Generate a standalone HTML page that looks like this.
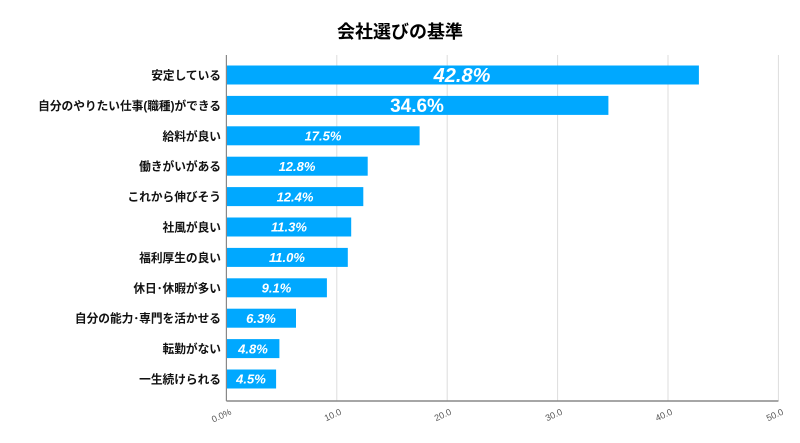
<!DOCTYPE html><html><head><meta charset="utf-8"><style>
body{margin:0;background:#fff;}
svg text{font-family:"Liberation Sans","Noto Sans CJK JP",sans-serif;}
</style></head><body>
<svg width="800" height="438" xmlns="http://www.w3.org/2000/svg">
<rect width="800" height="438" fill="#fff"/>
<text x="400" y="38" text-anchor="middle" font-size="18" font-weight="bold" fill="#000">会社選びの基準</text>
<g stroke="#ddd" stroke-width="1">
<line x1="336.8" y1="55" x2="336.8" y2="401"/>
<line x1="447.2" y1="55" x2="447.2" y2="401"/>
<line x1="557.6" y1="55" x2="557.6" y2="401"/>
<line x1="668" y1="55" x2="668" y2="401"/>
<line x1="778.4" y1="55" x2="778.4" y2="401"/>
</g>
<g fill="#00a8ff">
<rect x="226.4" y="65.5" width="472.5" height="19"/>
<rect x="226.4" y="95.9" width="382" height="19"/>
<rect x="226.4" y="126.3" width="193.2" height="19"/>
<rect x="226.4" y="156.7" width="141.3" height="19"/>
<rect x="226.4" y="187.1" width="136.9" height="19"/>
<rect x="226.4" y="217.5" width="124.8" height="19"/>
<rect x="226.4" y="247.9" width="121.4" height="19"/>
<rect x="226.4" y="278.3" width="100.5" height="19"/>
<rect x="226.4" y="308.7" width="69.6" height="19"/>
<rect x="226.4" y="339.1" width="53" height="19"/>
<rect x="226.4" y="369.5" width="49.7" height="19"/>
</g>
<line x1="226.4" y1="55" x2="226.4" y2="401" stroke="#888" stroke-width="1.2"/>
<line x1="226.4" y1="401" x2="778.4" y2="401" stroke="#888" stroke-width="1.5"/>
<g fill="#fff" font-weight="bold" text-anchor="middle">
<text x="462" y="82" font-size="20" font-style="italic">42.8%</text>
<text x="417" y="112" font-size="19">34.6%</text>
<g font-size="13" font-style="italic">
<text x="323" y="140.5">17.5%</text>
<text x="297" y="170.9">12.8%</text>
<text x="295" y="201.3">12.4%</text>
<text x="289" y="231.7">11.3%</text>
<text x="287" y="262.1">11.0%</text>
<text x="276.5" y="292.5">9.1%</text>
<text x="261" y="322.9">6.3%</text>
<text x="253" y="353.3">4.8%</text>
<text x="251" y="383.7">4.5%</text>
</g></g>
<g font-size="11.7" font-weight="bold" fill="#111" text-anchor="end">
<text x="221" y="79.5">安定している</text>
<text x="221" y="109.9">自分のやりたい仕事(職種)ができる</text>
<text x="221" y="140.3">給料が良い</text>
<text x="221" y="170.7">働きがいがある</text>
<text x="221" y="201.1">これから伸びそう</text>
<text x="221" y="231.5">社風が良い</text>
<text x="221" y="261.9">福利厚生の良い</text>
<text x="221" y="292.3">休日･休暇が多い</text>
<text x="221" y="322.7">自分の能力･専門を活かせる</text>
<text x="221" y="353.1">転勤がない</text>
<text x="221" y="383.5">一生続けられる</text>
</g>
<g font-size="9" fill="#555" text-anchor="end">
<text transform="translate(232,414) rotate(-25)">0.0%</text>
<text transform="translate(342,414) rotate(-25)">10.0</text>
<text transform="translate(452,414) rotate(-25)">20.0</text>
<text transform="translate(563,414) rotate(-25)">30.0</text>
<text transform="translate(673,414) rotate(-25)">40.0</text>
<text transform="translate(784,414) rotate(-25)">50.0</text>
</g>
</svg>
</body></html>
